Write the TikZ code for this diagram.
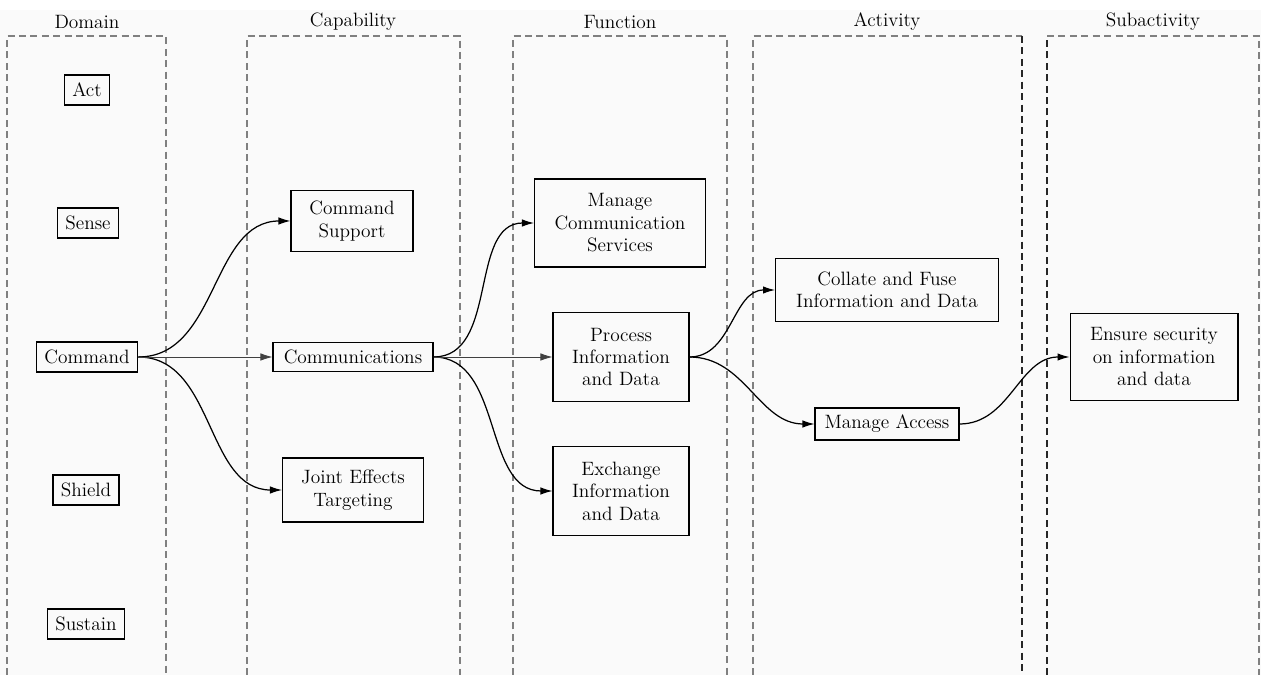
\documentclass[tikz,border=0pt]{standalone}
\usepackage{amsmath}
\usetikzlibrary{arrows.meta}

\tikzset{
  txt/.style={font=\fontsize{11}{12.8}\selectfont},
  dom/.style={txt,draw,line width=0.9pt,inner xsep=4.5pt,inner ysep=0pt,minimum height=0.6cm},
  blk/.style={txt,draw,semithick,align=center,inner sep=0pt},
  col/.style={gray,line width=0.6pt,dash pattern=on 4pt off 2.5pt},
  arr/.style={-{Latex[length=2.4mm,width=1.5mm]},line width=0.7pt},
  flat/.style={-{Latex[length=2.4mm,width=1.5mm]},line width=0.45pt,black!75}
}

\begin{document}
\begin{tikzpicture}[x=0.02cm,y=-0.02cm]
      \useasboundingbox (0,0) rectangle (1261,675);
      \fill[black!2] (0,10) rectangle (1261,675);
      % lanes
      \draw[col] (7,675) |- (166,36) -- (166,675);
      \draw[col] (247,675) |- (460,36) -- (460,675);
      \draw[col] (513,675) |- (727,36) -- (727,675);
      \draw[col] (753,675) |- (1022,36);
      \draw[col,black!85] (1022,36) -- (1022,675);
      \draw[col] (1047,36) -- (1259,36) -- (1259,675);
      \draw[col,black!85] (1047,675) -- (1047,36);
      \draw
        (87,22) node[txt] (h1){Domain}
        (353,22) node[txt] (h2){Capability}
        (620,22) node[txt] (h3){Function}
        (887,22) node[txt] (h4){Activity}
        (1153,22) node[txt] (h5){Subactivity};
      \draw
        (87,90) node[dom] (act){Act}
        (88,223) node[dom] (sense){Sense}
        (87,357) node[dom] (cmd){Command}
        (86,490) node[dom] (shield){Shield}
        (86,624) node[dom] (sustain){Sustain};
      \draw
        (352,221) node[blk,minimum width=2.44cm,minimum height=1.22cm] (cs){Command\\Support}
        (353,357) node[blk,minimum width=3.2cm,minimum height=0.58cm] (com){Communications}
        (353,490) node[blk,minimum width=2.82cm,minimum height=1.28cm] (jet){Joint Effects\\Targeting}
        (620,223) node[blk,minimum width=3.42cm,minimum height=1.76cm] (mcs){Manage\\Communication\\Services}
        (621,357) node[blk,minimum width=2.72cm,minimum height=1.78cm] (pid){Process\\Information\\and Data}
        (621,491) node[blk,minimum width=2.72cm,minimum height=1.78cm] (eid){Exchange\\Information\\and Data}
        (887,290) node[blk,minimum width=4.46cm,minimum height=1.26cm] (caf){Collate and Fuse\\Information and Data}
        (887,424) node[blk,minimum width=2.88cm,minimum height=0.64cm] (ma){Manage Access}
        (1154,357) node[blk,minimum width=3.36cm,minimum height=1.74cm] (esd){Ensure security\\on information\\and data};
      \begin{scope}[arr]
        \draw (cmd.east) to[out=0,in=180] (cs.west);
        \draw (cmd.east) to[out=0,in=180] (jet.west);
        \draw (com.east) to[out=0,in=180] (mcs.west);
        \draw (com.east) to[out=0,in=180] (eid.west);
        \draw (pid.east) to[out=0,in=180] (caf.west);
        \draw (pid.east) to[out=0,in=180] (ma.west);
        \draw (ma.east) to[out=0,in=180] (esd.west);
      \end{scope}
      \draw[flat] (cmd) -- (com);
      \draw[flat] (com) -- (pid);
    \end{tikzpicture}
\end{document}
